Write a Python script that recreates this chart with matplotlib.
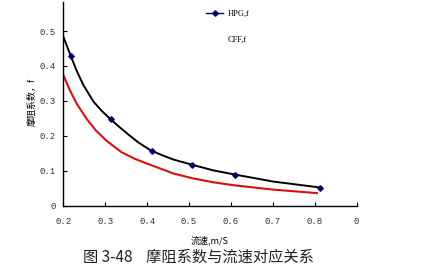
import matplotlib.pyplot as plt
from matplotlib.lines import Line2D

plt.rcParams['font.family'] = ['Noto Sans CJK SC', 'DejaVu Sans']

# HPG 测点
hpg_v = [0.218, 0.313, 0.411, 0.508, 0.610, 0.813]
hpg_f = [0.428, 0.247, 0.157, 0.117, 0.089, 0.052]

# HPG 趋势线 (黑)
hpg_line_v = [0.200, 0.218, 0.232, 0.248, 0.272, 0.292, 0.313, 0.335, 0.355,
              0.379, 0.409, 0.439, 0.463, 0.508, 0.558, 0.610, 0.701, 0.813]
hpg_line_f = [0.484, 0.428, 0.386, 0.345, 0.298, 0.271, 0.247, 0.224, 0.204,
              0.181, 0.158, 0.143, 0.132, 0.117, 0.101, 0.089, 0.069, 0.052]

# CFF 趋势线 (红)
cff_line_v = [0.200, 0.216, 0.232, 0.256, 0.278, 0.303, 0.339, 0.371, 0.403,
              0.439, 0.463, 0.510, 0.558, 0.610, 0.701, 0.805]
cff_line_f = [0.374, 0.330, 0.292, 0.248, 0.215, 0.186, 0.153, 0.134, 0.119,
              0.103, 0.092, 0.078, 0.067, 0.058, 0.046, 0.036]

xticks = [0.2, 0.3, 0.4, 0.5, 0.6, 0.7, 0.8, 0.9]
xtick_labels = ['0.2', '0.3', '0.4', '0.5', '0.6', '0.7', '0.8', '0']
yticks = [0, 0.1, 0.2, 0.3, 0.4, 0.5]
ytick_labels = ['0', '0.1', '0.2', '0.3', '0.4', '0.5']

fig = plt.figure(figsize=(4.39, 2.72), dpi=100)
ax = fig.add_axes([0.1442, 0.2438, 0.8125 - 0.1442, 0.9926 - 0.2438])

ax.plot(hpg_line_v, hpg_line_f, color='black', lw=1.4, solid_joinstyle='round')
ax.plot(cff_line_v, cff_line_f, color='#d80f0f', lw=1.5, solid_joinstyle='round')
ax.plot(hpg_v, hpg_f, ls='none', marker='D', ms=2.8, color='#000066')

ax.set_xlim(0.2, 0.9)
ax.set_ylim(0, 0.583)
ax.set_xticks(xticks)
ax.set_xticklabels(xtick_labels)
ax.set_yticks(yticks)
ax.set_yticklabels(ytick_labels)
for lab in ax.get_xticklabels() + ax.get_yticklabels():
    lab.set_family('Liberation Mono')
    lab.set_fontsize(6.5)
    lab.set_color('#333333')
ax.tick_params(axis='x', direction='in', length=3, width=0.8, pad=8.5)
ax.tick_params(axis='y', direction='in', length=3, width=0.8, pad=5.5)
ax.spines['top'].set_visible(False)
ax.spines['right'].set_visible(False)
ax.spines['left'].set_linewidth(1.0)
ax.spines['bottom'].set_linewidth(1.0)

handles = [Line2D([], [], color='#000066', lw=1.0, marker='D', ms=2.8),
           Line2D([], [], color='none')]
leg = ax.legend(handles, ['HPG,f', 'CFF,f'], loc='upper left',
                bbox_to_anchor=(206 / 439, 1 - 10 / 272),
                bbox_transform=fig.transFigure, frameon=False,
                prop={'family': 'Liberation Serif', 'size': 6},
                borderpad=0, borderaxespad=0, handlelength=2.1,
                handletextpad=0.45, labelspacing=2.1)

fig.text(32 / 439, 1 - 102 / 272, '摩阻系数，f', rotation=90,
         ha='center', va='center', fontsize=6.5)
fig.text(210 / 439, 1 - 240 / 272, '流速,m/S', ha='center', va='center',
         fontsize=6.5)
fig.text(198 / 439, 1 - 257 / 272, '图 3-48    摩阻系数与流速对应关系',
         ha='center', va='center', fontsize=11, color='#222222')

fig.savefig('out.png', dpi=100)
